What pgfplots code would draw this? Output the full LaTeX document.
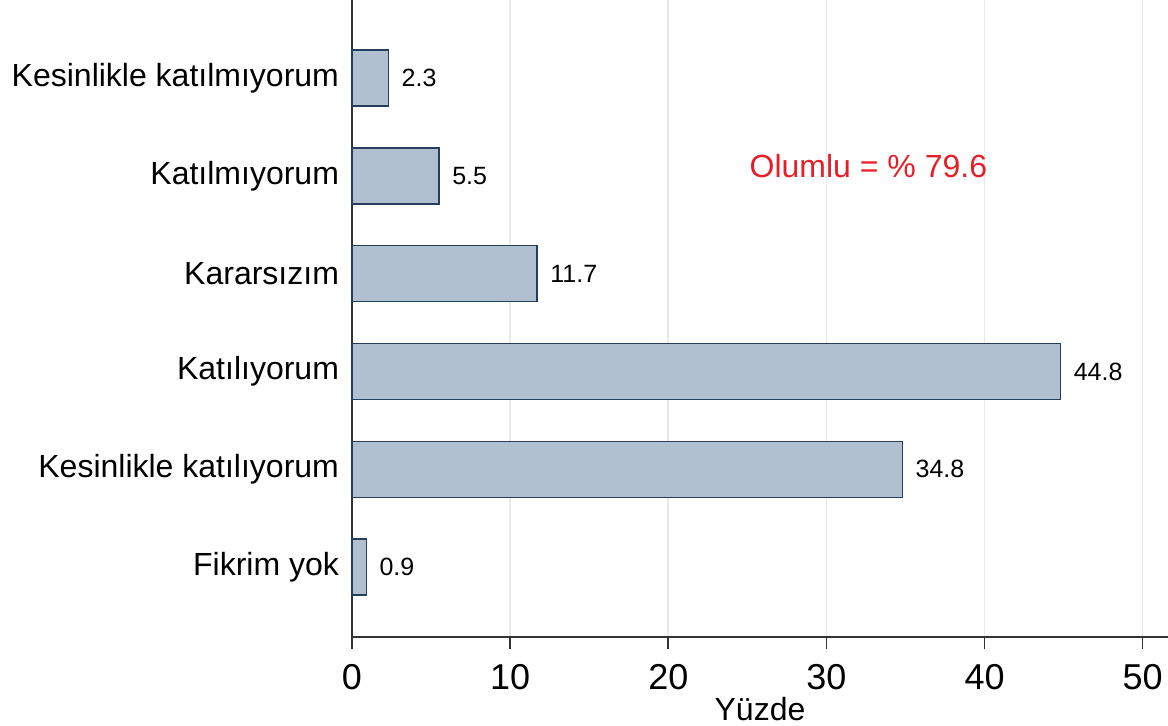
\documentclass[border=0pt]{standalone}
\usepackage{fontspec}
\setmainfont{Liberation Sans}
\usepackage{pgfplots}
\pgfplotsset{compat=1.18}
\definecolor{barfill}{RGB}{176,192,209}
\definecolor{baredge}{RGB}{38,62,94}
\definecolor{gridc}{RGB}{232,234,238}
\definecolor{redtxt}{RGB}{230,30,40}
\begin{document}
\begin{tikzpicture}
\begin{axis}[
  scale only axis,
  width=408pt, height=318.5pt,
  xmin=0, xmax=51.6, ymin=0.284, ymax=6.8,
  xbar, bar width=28pt, bar shift=0pt,
  axis x line*=bottom, axis y line*=left,
  axis line style={draw=black!80, line width=0.8pt},
  xtick={0,10,20,30,40,50},
  xticklabel style={font=\fontsize{18}{18}\selectfont, text=black, yshift=-4pt},
  x tick style={draw=black!80, line width=0.8pt},
  tick align=outside, major tick length=6pt,
  ytick={1,2,3,4,5,6},
  yticklabels={Fikrim yok, Kesinlikle katılıyorum, Katılıyorum, Kararsızım, Katılmıyorum, Kesinlikle katılmıyorum},
  yticklabel style={font=\fontsize{16}{16}\selectfont, text=black, xshift=3pt},
  y tick style={draw=none},
  xmajorgrids, grid style={draw=gridc, line width=0.8pt},
  xlabel={Yüzde},
  xlabel style={font=\fontsize{16}{16}\selectfont, yshift=3pt},
  /pgf/number format/assume math mode=true,
  nodes near coords,
  nodes near coords style={font=\fontsize{12.5}{12.5}\selectfont, text=black, anchor=west, xshift=3pt},
  point meta=explicit symbolic,
  clip=false,
]
\addplot[fill=barfill, draw=baredge, line width=0.7pt] coordinates {
  (0.9,1) [0.9]
  (34.8,2) [34.8]
  (44.8,3) [44.8]
  (11.7,4) [11.7]
  (5.5,5) [5.5]
  (2.3,6) [2.3]
};
\node[anchor=west, text=redtxt, font=\fontsize{16}{16}\selectfont] at (axis cs:24.7,5.1) {Olumlu = \% 79.6};
\end{axis}
\pgfresetboundingbox
\path (current axis.south west) ++(-176pt,-44.5pt) rectangle ++(584pt,363pt);
\end{tikzpicture}
\end{document}
